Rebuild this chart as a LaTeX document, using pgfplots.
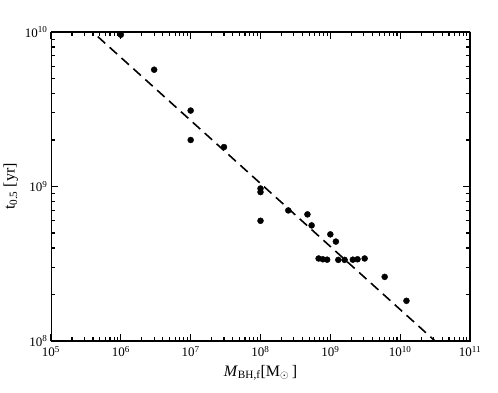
\documentclass[border=0pt]{standalone}
\usepackage{fontspec}
\setmainfont{Liberation Serif}
\usepackage{pgfplots}
\pgfplotsset{compat=1.18}

\begin{document}
\begin{tikzpicture}
\begin{axis}[
  scale only axis, width=419pt, height=309pt,
  xmode=log, ymode=log,
  xmin=1e5, xmax=1e11, ymin=1e8, ymax=1e10,
  xtick={1e5,1e6,1e7,1e8,1e9,1e10,1e11},
  xticklabels={10\textsuperscript{5},10\textsuperscript{6},10\textsuperscript{7},10\textsuperscript{8},10\textsuperscript{9},10\textsuperscript{10},10\textsuperscript{11}},
  ytick={1e8,1e9,1e10},
  yticklabels={10\textsuperscript{8},10\textsuperscript{9},10\textsuperscript{10}},
  minor xtick={2e5,3e5,4e5,5e5,6e5,7e5,8e5,9e5,
    2e6,3e6,4e6,5e6,6e6,7e6,8e6,9e6,
    2e7,3e7,4e7,5e7,6e7,7e7,8e7,9e7,
    2e8,3e8,4e8,5e8,6e8,7e8,8e8,9e8,
    2e9,3e9,4e9,5e9,6e9,7e9,8e9,9e9,
    2e10,3e10,4e10,5e10,6e10,7e10,8e10,9e10},
  minor ytick={2e8,3e8,4e8,5e8,6e8,7e8,8e8,9e8,
    2e9,3e9,4e9,5e9,6e9,7e9,8e9,9e9},
  tick align=inside,
  major tick length=7pt, minor tick length=4pt,
  major tick style={black, line width=1.2pt},
  minor tick style={black, line width=1.1pt},
  xticklabel style={font=\fontsize{13}{15}\selectfont, yshift=-2pt},
  yticklabel style={font=\fontsize{13}{15}\selectfont},
  label style={font=\fontsize{16}{18}\selectfont},
  xlabel={\textit{M}\textsubscript{BH,f}[M\textsubscript{$\odot$}\,]},
  ylabel={t\textsubscript{0.5} [yr]},
  xlabel style={yshift=-1pt},
]
\addplot[black, line width=1.6pt, dash pattern=on 10pt off 6pt] coordinates {(3.16e5,1.095e10) (3.98e10,9.1e7)};
\addplot[only marks, mark=*, mark size=3pt, black] coordinates {
(1e6,9.6e9) (3e6,5.7e9) (1e7,3.1e9) (1e7,2.0e9) (3e7,1.8e9)
(1e8,0.97e9) (1e8,0.92e9) (1e8,6.0e8) (2.5e8,7.0e8) (4.7e8,6.6e8)
(5.4e8,5.6e8) (1e9,4.9e8) (1.2e9,4.4e8) (6.8e8,3.42e8) (7.8e8,3.38e8)
(9e8,3.36e8) (1.3e9,3.35e8) (1.6e9,3.35e8) (2.1e9,3.36e8) (2.45e9,3.38e8)
(3.1e9,3.42e8) (6e9,2.6e8) (1.23e10,1.82e8)
};
\draw[line width=1.3pt] (rel axis cs:0,0) rectangle (rel axis cs:1,1);
\end{axis}
\pgfresetboundingbox
\path[use as bounding box] ([shift={(-51pt,-51pt)}]current axis.south west) rectangle ([shift={(28pt,32pt)}]current axis.north east);
\end{tikzpicture}
\end{document}
